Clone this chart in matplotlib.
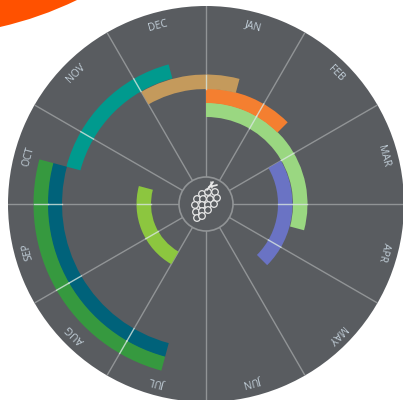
import numpy as np
import matplotlib
matplotlib.use('Agg')
import matplotlib.pyplot as plt
from matplotlib.patches import Circle, PathPatch
from matplotlib.path import Path

# --- chart values ---
months = ['JAN', 'FEB', 'MAR', 'APR', 'MAY', 'JUN', 'JUL', 'AUG', 'SEP', 'OCT', 'NOV', 'DEC']
# start / end in months after the JAN spoke, one entry per arc
arc_start = [7.0, 2.0, 0.0, 0.0, -1.0, 9.5, 6.5, 6.5]
arc_end = [9.5, 4.5, 3.5, 1.5, 0.5, 11.5, 9.5, 9.5]
arc_track = [0, 1, 2, 3, 4, 5, 6, 7]
arc_colors = ['#8cc63f', '#6a73c4', '#9ad781', '#f47f30', '#c49a5c', '#009a8e', '#00627a', '#36993f']

# grape bunch, offsets in px from the centre
grape_x = [-4, 2, 9, -9, -3, 4, 11, -11, -4, 2, 8, -10, -4, 2, -9, -4]
grape_y = [10, 12, 12, 5, 5, 5, 6, -1, -1, -1, 0, -8, -7, -6, -14, -12]

# --- layout ---
W, H = 403, 400
CX, CY, R = 206, 204, 198
R_HUB = 27
TRACK_R = [55, 72, 87, 101, 115, 130, 144, 158]
TRACK_W = 14.5
BG = '#595c60'
SPOKE = '#919496'

fig = plt.figure(figsize=(W / 100, H / 100), dpi=100, facecolor='white')
rect = [(CX - R) / W, (H - CY - R) / H, 2 * R / W, 2 * R / H]

ax = fig.add_axes(rect, projection='polar')
ax.set_theta_zero_location('N')
ax.set_theta_direction(-1)
ax.set_ylim(0, R)
ax.set_facecolor(BG)
ax.grid(False)
ax.set_xticks([])
ax.set_yticks([])
ax.spines['polar'].set_visible(False)

month_rad = 2 * np.pi / 12

# spokes under the arcs
for i in range(12):
    ax.plot([i * month_rad] * 2, [R_HUB, R], color=SPOKE, lw=1.0, zorder=1)

for s, e, t, c in zip(arc_start, arc_end, arc_track, arc_colors):
    ax.bar(s * month_rad, TRACK_W, width=(e - s) * month_rad, bottom=TRACK_R[t],
           align='edge', color=c, linewidth=0, zorder=2)
    # light seam where a spoke runs through the arc
    for m in np.arange(np.ceil(s), e):
        if m > s:
            ax.plot([m * month_rad] * 2, [TRACK_R[t], TRACK_R[t] + TRACK_W],
                    color='#d8e6e0', lw=1.0, alpha=0.8, zorder=3)

# month labels run along the rim, upside down on the lower half
for i, name in enumerate(months):
    th = (i + 0.5) * 30
    ax.text(np.deg2rad(th), 184, name, rotation=-th, rotation_mode='anchor',
            ha='center', va='center', color='#c3d0da', fontsize=7.5,
            family='Open Sans', zorder=4)

# overlay in pixels from the centre, for hub and grapes
ov = fig.add_axes(rect)
ov.set_xlim(-R, R)
ov.set_ylim(-R, R)
ov.axis('off')
ov.patch.set_alpha(0)
ov.add_patch(Circle((0, 0), R_HUB, fc=BG, ec=SPOKE, lw=1.2))
for x, y in zip(grape_x, grape_y):
    ov.add_patch(Circle((x, y), 3.3, fc=BG, ec='#e8e8e8', lw=0.9))
ov.plot([1, 7], [14, 22], color='#e8e8e8', lw=1.3, solid_capstyle='round')
ov.plot([3, 11], [17, 19], color='#e8e8e8', lw=1.3, solid_capstyle='round')
ov.plot([6, 5], [16, 22], color='#e8e8e8', lw=1.1, solid_capstyle='round')

# orange shape cut off by the top-left corner
blob = Path([(0, H), (0, H - 27), (40, H - 18), (77, H), (0, H)],
            [Path.MOVETO, Path.LINETO, Path.CURVE3, Path.CURVE3, Path.CLOSEPOLY])
corner = fig.add_axes([0, 0, 1, 1], zorder=-1)
corner.set_xlim(0, W)
corner.set_ylim(0, H)
corner.axis('off')
corner.add_patch(PathPatch(blob, fc='#ff5100', ec='none'))

fig.savefig('out.png', dpi=100)
